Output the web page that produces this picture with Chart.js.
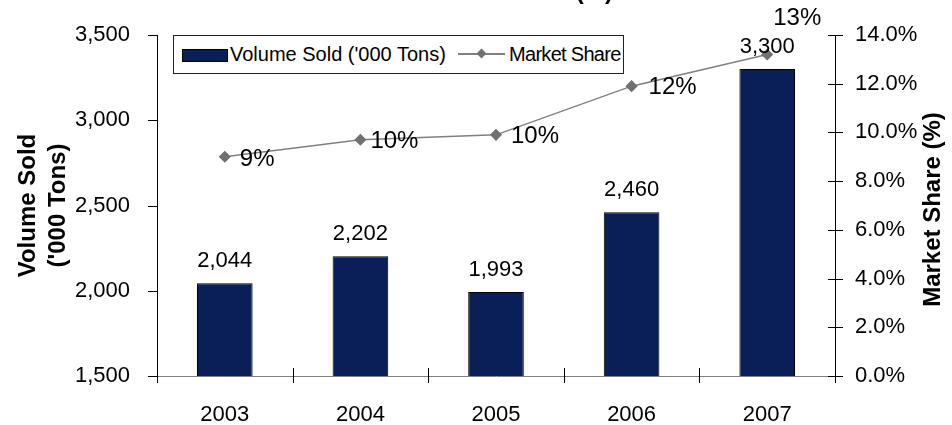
<!DOCTYPE html>
<html>
<head>
<meta charset="utf-8">
<script src="https://cdn.jsdelivr.net/npm/chart.js@4"></script>
<style>
  body { margin: 0; background: #fff; font-family: "Liberation Sans", Arial, sans-serif; }
  #wrap { position: relative; width: 952px; height: 425px; overflow: hidden; }
  #legend {
    position: absolute; left: 173px; top: 35px; width: 449px; height: 37px;
    border: 1px solid #222; background: #fff;
    font-size: 20px; color: #000; white-space: nowrap;
  }
  #legend span { position: absolute; top: 0; line-height: 37px; }
  #legend .bar { left: 8px; top: 13px; width: 44px; height: 11px; background: #0a1e58; border: 1px solid #000; line-height: 0; }
  #legend .t1 { left: 56px; }
  #legend .line { left: 284px; top: 12px; width: 47px; height: 12px; line-height: 0; }
  #legend .line:before { content: ""; position: absolute; left: 0; right: 0; top: 5px; height: 1.5px; background: #808080; }
  #legend .line:after { content: ""; position: absolute; left: 20px; top: 2px; width: 7px; height: 7px; background: #707070; transform: rotate(45deg); }
  #legend .t2 { left: 335px; letter-spacing: -0.7px; }
</style>
</head>
<body>
<div id="wrap">
  <canvas id="chart" width="952" height="425"></canvas>
  <div id="legend">
    <span class="bar"></span><span class="t1">Volume Sold ('000 Tons)</span>
    <span class="line"></span><span class="t2">Market Share</span>
  </div>
</div>
<script>
const years = ['2003', '2004', '2005', '2006', '2007'];
const volumeSold = [2044, 2202, 1993, 2460, 3300];
const marketShare = [9.0, 9.7, 9.9, 11.9, 13.2];
const volumeTicks = [1500, 2000, 2500, 3000, 3500];
const shareTicks = [0, 2, 4, 6, 8, 10, 12, 14];

const FONT = '"Liberation Sans", Arial, sans-serif';

// label offsets for the market share labels (dx, dy, align)
const shareLabelPos = [
    [15, 3, 'left'], [10, 2, 'left'], [15, 2, 'left'], [17, 1, 'left'], [30, -36, 'center']
];

const extraText = {
    id: 'extraText',
    afterDraw(chart) {
        const ctx = chart.ctx;
        const area = chart.chartArea;
        ctx.save();
        ctx.font = 'bold 24px ' + FONT;
        ctx.fillStyle = '#000';
        ctx.textAlign = 'right';
        ctx.textBaseline = 'alphabetic';
        ctx.fillText('Volume Sold and Market Share (%)', 613, -1);
        // right axis title, reading bottom to top
        ctx.translate(933, (area.top + area.bottom) / 2 + 4);
        ctx.rotate(-Math.PI / 2);
        ctx.textAlign = 'center';
        ctx.textBaseline = 'middle';
        ctx.fillText('Market Share (%)', 0, 0);
        ctx.restore();
    }
};

const axisTicks = {
    id: 'axisTicks',
    afterDraw(chart) {
        const ctx = chart.ctx;
        const area = chart.chartArea;
        ctx.save();
        ctx.lineWidth = 1;
        ctx.strokeStyle = '#000';
        ctx.beginPath();
        const y = chart.scales.y;
        y.ticks.forEach((t, i) => {
            const p = Math.round(y.getPixelForTick(i)) + 0.5;
            ctx.moveTo(area.left - 9, p); ctx.lineTo(area.left, p);
        });
        const y1 = chart.scales.y1;
        y1.ticks.forEach((t, i) => {
            const p = Math.round(y1.getPixelForTick(i)) + 0.5;
            ctx.moveTo(area.right - 7, p); ctx.lineTo(area.right + 8, p);
        });
        const x = chart.scales.x;
        for (let i = 0; i <= years.length; i++) {
            let p;
            if (i === 0) p = area.left;
            else if (i === years.length) p = area.right;
            else p = (x.getPixelForValue(i - 1) + x.getPixelForValue(i)) / 2;
            p = Math.round(p) + 0.5;
            ctx.moveTo(p, area.bottom - 8); ctx.lineTo(p, area.bottom + 7);
        }
        ctx.stroke();
        ctx.restore();
    }
};

const valueLabels = {
    id: 'valueLabels',
    afterDatasetsDraw(chart) {
        const ctx = chart.ctx;
        ctx.save();
        ctx.fillStyle = '#000';
        ctx.textBaseline = 'middle';
        ctx.font = '22px ' + FONT;
        chart.getDatasetMeta(0).data.forEach((el, i) => {
            ctx.textAlign = 'center';
            ctx.fillText(volumeSold[i].toLocaleString('en-US'), el.x, el.y - 22);
        });
        ctx.font = '24px ' + FONT;
        chart.getDatasetMeta(1).data.forEach((el, i) => {
            const [dx, dy, align] = shareLabelPos[i];
            ctx.textAlign = align;
            ctx.fillText(Math.round(marketShare[i]) + '%', el.x + dx, el.y + dy);
        });
        ctx.restore();
    }
};

const ctx = document.getElementById('chart').getContext('2d');
const chart = new Chart(ctx, {
    data: {
        labels: years,
        datasets: [{
            type: 'bar',
            label: "Volume Sold ('000 Tons)",
            data: volumeSold,
            yAxisID: 'y',
            backgroundColor: '#0a1e58',
            borderColor: '#000',
            borderWidth: 1,
            categoryPercentage: 1,
            barPercentage: 0.41,
            order: 2
        }, {
            type: 'line',
            label: 'Market Share',
            data: marketShare,
            yAxisID: 'y1',
            borderColor: '#808080',
            borderWidth: 1.5,
            pointStyle: 'rectRot',
            pointRadius: 5,
            pointBackgroundColor: '#707070',
            pointBorderColor: '#707070',
            tension: 0,
            order: 1
        }]
    },
    options: {
        responsive: false,
        animation: false,
        devicePixelRatio: 1,
        layout: { padding: { top: 35, left: 0, right: 0, bottom: 0 } },
        plugins: {
            legend: { display: false },
            tooltip: { enabled: false }
        },
        scales: {
            x: {
                grid: { display: false },
                border: { display: true, color: '#808080', width: 1 },
                ticks: { color: '#000', font: { family: FONT, size: 22 }, padding: 18, maxRotation: 0 },
                afterFit: s => { s.height = 49; }
            },
            y: {
                position: 'left',
                min: 1500, max: 3500,
                afterBuildTicks: s => { s.ticks = volumeTicks.map(v => ({ value: v })); },
                grid: { display: false },
                border: { display: true, color: '#000', width: 1 },
                ticks: {
                    color: '#000', font: { family: FONT, size: 22 }, padding: 19,
                    callback: v => v.toLocaleString('en-US')
                },
                title: {
                    display: true,
                    text: ['Volume Sold', "('000 Tons)"],
                    color: '#000',
                    font: { family: FONT, size: 24, weight: 'bold', lineHeight: 1.25 },
                    padding: { top: 13, bottom: 0 }
                },
                afterFit: s => { s.width = 157; }
            },
            y1: {
                position: 'right',
                min: 0, max: 14,
                afterBuildTicks: s => { s.ticks = shareTicks.map(v => ({ value: v })); },
                grid: { display: false },
                border: { display: true, color: '#000', width: 1 },
                ticks: {
                    color: '#000', font: { family: FONT, size: 22 }, padding: 12,
                    callback: v => v.toFixed(1) + '%'
                },
                afterFit: s => { s.width = 117; }
            }
        }
    },
    plugins: [extraText, axisTicks, valueLabels]
});
</script>
</body>
</html>
